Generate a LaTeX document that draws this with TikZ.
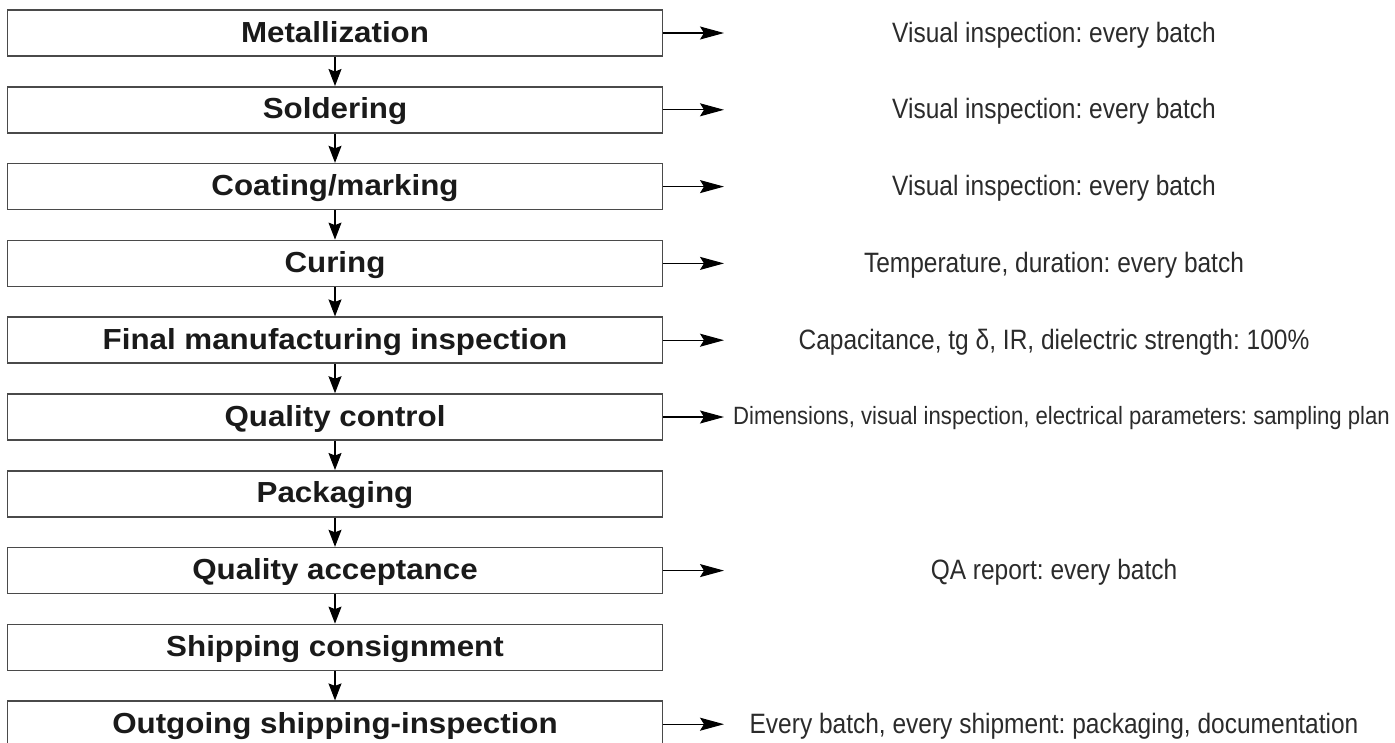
\documentclass[tikz,border=0pt]{standalone}
\usepackage{fontspec}
\setmainfont{Liberation Sans}
\newfontfamily\boxfont{Liberation Sans}[FakeStretch=1.08]
\newfontfamily\notefont{Liberation Sans}[FakeStretch=0.875]
\newfontfamily\notefontn{Liberation Sans}[FakeStretch=0.885]
\usetikzlibrary{arrows.meta}
\definecolor{boxline}{HTML}{4A4A4A}
\definecolor{ink}{HTML}{1A1A1A}
\definecolor{notecol}{HTML}{2B2B2B}
\frenchspacing
\tikzset{
  stepbox/.style={draw=boxline, line width=1.6pt, minimum width=655pt, minimum height=46pt,
    inner sep=0pt, text height=21pt, text depth=3pt, text=ink,
    font={\fontsize{29}{30}\selectfont\boxfont\bfseries}},
  notetext/.style={anchor=base, inner sep=0pt, text=notecol,
    font={\fontsize{28}{30}\selectfont\notefont\frenchspacing}},
  notetextn/.style={anchor=base west, inner sep=0pt, text=notecol,
    font={\fontsize{25}{27}\selectfont\notefontn\frenchspacing}},
  varrow/.style={line width=1.1pt, -{Stealth[length=17pt,width=13pt,inset=2.5pt]}},
  harrow/.style={line width=1.1pt, -{Stealth[length=24pt,width=13pt,inset=4pt]}}
}
\begin{document}
\begin{tikzpicture}[x=1pt,y=-1pt]
\clip (0,0) rectangle (1395,742);
\fill[white] (0,0) rectangle (1395,742);
% boxes
\node[stepbox] (b1)  at (335,33.0)  {Metallization};
\node[stepbox] (b2)  at (335,109.8) {Soldering};
\node[stepbox] (b3)  at (335,186.6) {Coating/marking};
\node[stepbox] (b4)  at (335,263.4) {Curing};
\node[stepbox] (b5)  at (335,340.2) {Final manufacturing inspection};
\node[stepbox] (b6)  at (335,417.0) {Quality control};
\node[stepbox] (b7)  at (335,493.8) {Packaging};
\node[stepbox] (b8)  at (335,570.6) {Quality acceptance};
\node[stepbox] (b9)  at (335,647.4) {Shipping consignment};
\node[stepbox] (b10) at (335,724.2) {Outgoing shipping-inspection};
% vertical arrows
\draw[varrow] (b1.south) -- (b2.north);
\draw[varrow] (b2.south) -- (b3.north);
\draw[varrow] (b3.south) -- (b4.north);
\draw[varrow] (b4.south) -- (b5.north);
\draw[varrow] (b5.south) -- (b6.north);
\draw[varrow] (b6.south) -- (b7.north);
\draw[varrow] (b7.south) -- (b8.north);
\draw[varrow] (b8.south) -- (b9.north);
\draw[varrow] (b9.south) -- (b10.north);
% arrow tips
\coordinate (a1)  at (724,33.0);
\coordinate (a2)  at (724,109.8);
\coordinate (a3)  at (724,186.6);
\coordinate (a4)  at (724,263.4);
\coordinate (a5)  at (724,340.2);
\coordinate (a6)  at (724,417.0);
\coordinate (a8)  at (724,570.6);
\coordinate (a10) at (724,724.2);
\draw[harrow] (b1.east) -- (a1);
\draw[harrow] (b2.east) -- (a2);
\draw[harrow] (b3.east) -- (a3);
\draw[harrow] (b4.east) -- (a4);
\draw[harrow] (b5.east) -- (a5);
\draw[harrow] (b6.east) -- (a6);
\draw[harrow] (b8.east) -- (a8);
\draw[harrow] (b10.east) -- (a10);
% notes
\node[notetext] (n1)  at (1054,42.0)  {Visual inspection: every batch};
\node[notetext] (n2)  at (1054,118.8) {Visual inspection: every batch};
\node[notetext] (n3)  at (1054,195.6) {Visual inspection: every batch};
\node[notetext] (n4)  at (1054,272.4) {Temperature, duration: every batch};
\node[notetext] (n5)  at (1054,349.2) {Capacitance, tg δ, IR, dielectric strength: 100\%};
\node[notetextn] (n6) at (733,424.0)  {Dimensions, visual inspection, electrical parameters: sampling plan};
\node[notetext] (n8)  at (1054,579.6) {QA report: every batch};
\node[notetext] (n10) at (1054,733.2) {Every batch, every shipment: packaging, documentation};
\end{tikzpicture}
\end{document}
